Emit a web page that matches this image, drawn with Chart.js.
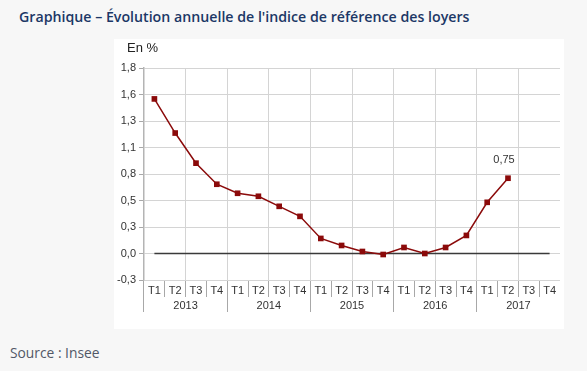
<!DOCTYPE html>
<html>
<head>
<meta charset="utf-8">
<script src="https://cdn.jsdelivr.net/npm/chart.js@4"></script>
<style>
  body { margin: 0; width: 587px; height: 371px; background: #f7f7f7; position: relative; overflow: hidden; }
  #title { position: absolute; left: 19px; top: 7px; font: 600 14.2px "Open Sans", sans-serif; color: #1c3766; white-space: nowrap; }
  #panel { position: absolute; left: 114px; top: 39px; width: 450px; height: 290px; background: #fff; }
  #unit { position: absolute; left: 13px; top: 1px; font: 13px "Liberation Sans", Arial, sans-serif; color: #222; }
  #source { position: absolute; left: 10px; top: 343px; font: 13.8px "Open Sans", sans-serif; color: #525866; }
</style>
</head>
<body>
<div id="title">Graphique – Évolution annuelle de l'indice de référence des loyers</div>
<div id="panel">
  <div id="unit">En %</div>
  <canvas id="irlChart" width="450" height="290"></canvas>
</div>
<div id="source">Source : Insee</div>
<script>
// trimestres et années
const quarters = [
  "T1", "T2", "T3", "T4", "T1", "T2", "T3", "T4", "T1", "T2",
  "T3", "T4", "T1", "T2", "T3", "T4", "T1", "T2", "T3", "T4",
];
const years = ["2013", "2014", "2015", "2016", "2017"];
// évolution annuelle de l'IRL (en %)
const irlValues = [
  1.54, 1.2, 0.9, 0.69, 0.6, 0.57, 0.47, 0.37, 0.15, 0.08,
  0.02, -0.01, 0.06, 0.0, 0.06, 0.18, 0.51, 0.75, null, null,
];
const zeroLine = quarters.map(() => 0);
const yTicks = [-0.264, 0, 0.264, 0.528, 0.792, 1.056, 1.32, 1.584, 1.848];
const yTickLabels = ["-0,3", "0,0", "0,3", "0,5", "0,8", "1,1", "1,3", "1,6", "1,8"];
const lastLabel = "0,75";

const font = { family: "'Liberation Sans', Arial, sans-serif", size: 11 };

// étiquette sur le dernier point
const lastValuePlugin = {
  id: "lastValue",
  afterDatasetsDraw(chart) {
    const meta = chart.getDatasetMeta(0);
    const pt = meta.data[17];
    const ctx = chart.ctx;
    ctx.save();
    ctx.font = "11px 'Liberation Sans', Arial, sans-serif";
    ctx.fillStyle = "#333";
    ctx.textAlign = "center";
    ctx.textBaseline = "middle";
    ctx.fillText(lastLabel, pt.x - 4, pt.y - 18);
    ctx.restore();
  },
};

const data = {
  labels: quarters,
  datasets: [
    {
      data: irlValues,
      borderColor: "#8b0a0a",
      backgroundColor: "#8b0a0a",
      borderWidth: 1.5,
      pointStyle: "rect",
      pointRadius: 4,
      pointBorderWidth: 0,
      tension: 0,
      spanGaps: false,
    },
    {
      data: zeroLine,
      borderColor: "#3a3a3a",
      borderWidth: 1.5,
      pointRadius: 0,
      tension: 0,
    },
  ],
};

const config = {
  type: "line",
  data: data,
  plugins: [lastValuePlugin],
  options: {
    responsive: false,
    animation: false,
    layout: { padding: { top: 29, left: 0, right: 0, bottom: 12 } },
    plugins: { legend: { display: false }, tooltip: { enabled: false } },
    scales: {
      x: {
        type: "category",
        offset: true,
        weight: 0,
        border: { display: false },
        grid: {
          offset: true,
          tickLength: 17,
          color: (c) => (c.index !== undefined && c.index % 2 === 0 ? "#d4d4d4" : "rgba(0,0,0,0)"),
          tickColor: (c) => (c.index !== undefined ? "#a8a8a8" : "rgba(0,0,0,0)"),
        },
        ticks: { font: font, color: "#333", padding: -13, autoSkip: false, maxRotation: 0 },
        afterFit: (s) => { s.height = 17; },
      },
      x2: {
        type: "category",
        labels: years,
        position: "bottom",
        offset: true,
        weight: 1,
        border: { display: false },
        grid: {
          offset: true,
          drawOnChartArea: false,
          tickLength: 15,
          tickColor: (c) => (c.index !== undefined ? "#a8a8a8" : "rgba(0,0,0,0)"),
        },
        ticks: { font: font, color: "#333", padding: -13, maxRotation: 0 },
        afterFit: (s) => { s.height = 20; },
      },
      y: {
        min: -0.264,
        max: 1.848,
        border: { color: "#b4b4b4", width: 1.5 },
        grid: { color: "#d4d4d4", tickLength: 5, tickColor: "#a8a8a8" },
        afterBuildTicks: (s) => { s.ticks = yTicks.map((v) => ({ value: v })); },
        ticks: {
          font: font,
          color: "#333",
          padding: 3,
          callback: (v, i) => yTickLabels[i],
        },
        afterFit: (s) => { s.width = 30; },
      },
    },
  },
};

const irlChart = new Chart(document.querySelector("#irlChart"), config);
</script>
</body>
</html>
